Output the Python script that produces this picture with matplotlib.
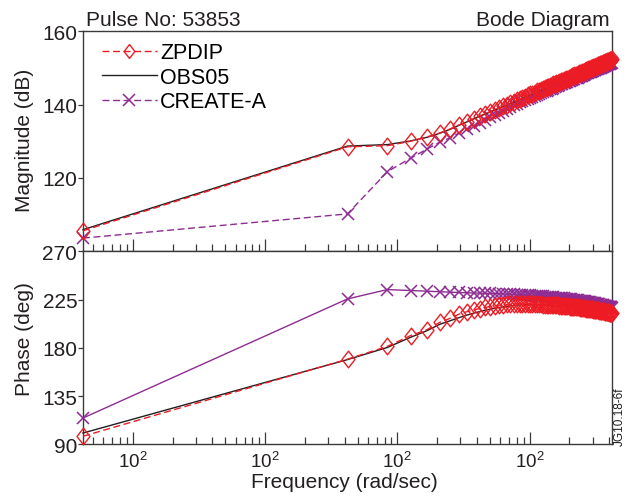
import numpy as np
import matplotlib
matplotlib.use("Agg")
import matplotlib.pyplot as plt
from matplotlib.path import Path
from matplotlib.ticker import FixedLocator, FixedFormatter, LogLocator, NullFormatter

plt.rcParams['font.family'] = ['Liberation Sans', 'DejaVu Sans']
plt.rcParams['mathtext.fontset'] = 'custom'
plt.rcParams['mathtext.rm'] = 'Liberation Sans'

# Frequency grid (rad/sec)
freq = [0.42,
        42, 84, 126, 168, 210, 252, 294, 336, 378,
        420, 462, 504, 546, 588, 630, 672, 714, 756, 798,
        840, 882, 924, 966, 1008, 1050, 1092, 1134, 1176, 1218,
        1260, 1302, 1344, 1386, 1428, 1470, 1512, 1554, 1596, 1638,
        1680, 1722, 1764, 1806, 1848, 1890, 1932, 1974, 2016, 2058,
        2100, 2142, 2184, 2226, 2268, 2310, 2352, 2394, 2436, 2478,
        2520, 2562, 2604, 2646, 2688, 2730, 2772, 2814, 2856, 2898,
        2940, 2982, 3024, 3066, 3108, 3150, 3192, 3234, 3276, 3318,
        3360, 3402, 3444, 3486, 3528, 3570, 3612, 3654, 3696, 3738,
        3780, 3822, 3864, 3906, 3948, 3990, 4032, 4074, 4116, 4158,
        4200]

# Magnitude (dB)
mag_zpdip = [105.6, 128.5, 128.8, 130.0, 131.2, 132.3, 133.4, 134.5, 135.4, 136.2,
             136.9, 137.5, 138.1, 138.6, 139.1, 139.6, 140.0, 140.4, 140.8, 141.2,
             141.5, 141.9, 142.2, 142.5, 142.8, 143.0, 143.3, 143.6, 143.8, 144.0,
             144.3, 144.5, 144.7, 144.9, 145.1, 145.3, 145.5, 145.7, 145.9, 146.0,
             146.2, 146.4, 146.5, 146.7, 146.8, 147.0, 147.1, 147.3, 147.4, 147.6,
             147.7, 147.8, 148.0, 148.1, 148.2, 148.3, 148.5, 148.6, 148.7, 148.8,
             148.9, 149.0, 149.2, 149.3, 149.4, 149.5, 149.6, 149.7, 149.8, 149.9,
             150.0, 150.1, 150.2, 150.3, 150.3, 150.4, 150.5, 150.6, 150.7, 150.8,
             150.9, 151.0, 151.0, 151.1, 151.2, 151.3, 151.4, 151.4, 151.5, 151.6,
             151.7, 151.7, 151.8, 151.9, 152.0, 152.0, 152.1, 152.2, 152.2, 152.3,
             152.4]
mag_obs05 = [105.9, 128.7, 129.1, 130.1, 131.1, 132.2, 133.3, 134.4, 135.3, 136.1,
             136.8, 137.4, 138.0, 138.5, 139.0, 139.5, 139.9, 140.3, 140.7, 141.1,
             141.4, 141.8, 142.1, 142.4, 142.7, 142.9, 143.2, 143.5, 143.7, 143.9,
             144.2, 144.4, 144.6, 144.8, 145.0, 145.2, 145.4, 145.6, 145.8, 145.9,
             146.1, 146.3, 146.4, 146.6, 146.7, 146.9, 147.0, 147.2, 147.3, 147.5,
             147.6, 147.7, 147.9, 148.0, 148.1, 148.2, 148.4, 148.5, 148.6, 148.7,
             148.8, 148.9, 149.1, 149.2, 149.3, 149.4, 149.5, 149.6, 149.7, 149.8,
             149.9, 150.0, 150.1, 150.2, 150.2, 150.3, 150.4, 150.5, 150.6, 150.7,
             150.8, 150.9, 150.9, 151.0, 151.1, 151.2, 151.3, 151.3, 151.4, 151.5,
             151.6, 151.6, 151.7, 151.8, 151.9, 151.9, 152.0, 152.1, 152.1, 152.2,
             152.3]
mag_create = [103.6, 110.2, 121.7, 125.4, 127.9, 129.8, 131.0, 132.3, 133.3, 134.2,
              135.1, 135.9, 136.6, 137.2, 137.8, 138.4, 138.9, 139.4, 139.9, 140.3,
              140.6, 141.0, 141.3, 141.6, 141.9, 142.1, 142.4, 142.7, 142.9, 143.1,
              143.4, 143.6, 143.8, 144.0, 144.2, 144.4, 144.6, 144.8, 145.0, 145.1,
              145.3, 145.5, 145.6, 145.8, 145.9, 146.1, 146.2, 146.4, 146.5, 146.7,
              146.8, 146.9, 147.1, 147.2, 147.3, 147.4, 147.6, 147.7, 147.8, 147.9,
              148.0, 148.1, 148.3, 148.4, 148.5, 148.6, 148.7, 148.8, 148.9, 149.0,
              149.1, 149.2, 149.3, 149.4, 149.4, 149.5, 149.6, 149.7, 149.8, 149.9,
              150.0, 150.1, 150.1, 150.2, 150.3, 150.4, 150.5, 150.5, 150.6, 150.7,
              150.8, 150.8, 150.9, 151.0, 151.1, 151.1, 151.2, 151.3, 151.3, 151.4,
              151.3]

# Phase (deg)
ph_zpdip = [97.5, 169.4, 181.3, 191.4, 197.0, 203.8, 207.6, 211.5, 213.7, 215.3,
            216.6, 217.6, 218.5, 219.2, 219.7, 220.1, 220.4, 220.7, 220.9, 221.0,
            221.1, 221.0, 221.0, 220.9, 220.8, 220.8, 220.7, 220.6, 220.5, 220.4,
            220.3, 220.3, 220.2, 220.1, 220.0, 219.9, 219.8, 219.7, 219.6, 219.5,
            219.3, 219.2, 219.1, 219.0, 218.9, 218.8, 218.7, 218.6, 218.5, 218.4,
            218.2, 218.1, 218.0, 217.9, 217.8, 217.7, 217.6, 217.4, 217.3, 217.2,
            217.1, 217.0, 216.9, 216.7, 216.6, 216.5, 216.4, 216.3, 216.2, 216.0,
            215.9, 215.8, 215.7, 215.6, 215.4, 215.3, 215.2, 215.1, 215.0, 214.8,
            214.7, 214.6, 214.5, 214.4, 214.2, 214.1, 214.0, 213.9, 213.8, 213.6,
            213.5, 213.4, 213.3, 213.2, 213.0, 212.9, 212.8, 212.7, 212.5, 212.4,
            212.3]
ph_obs05 = [100.5, 169.0, 180.3, 189.8, 196.0, 202.0, 205.3, 208.2, 210.5, 212.3,
            213.8, 215.0, 216.0, 216.9, 217.6, 218.2, 218.7, 219.1, 219.4, 219.7,
            219.9, 220.2, 220.2, 220.1, 220.0, 220.0, 219.9, 219.8, 219.7, 219.6,
            219.5, 219.5, 219.4, 219.3, 219.2, 219.1, 219.0, 218.9, 218.8, 218.7,
            218.5, 218.4, 218.3, 218.2, 218.1, 218.0, 217.9, 217.8, 217.7, 217.6,
            217.4, 217.3, 217.2, 217.1, 217.0, 216.9, 216.8, 216.6, 216.5, 216.4,
            216.3, 216.2, 216.1, 215.9, 215.8, 215.7, 215.6, 215.5, 215.4, 215.2,
            215.1, 215.0, 214.9, 214.8, 214.6, 214.5, 214.4, 214.3, 214.2, 214.0,
            213.9, 213.8, 213.7, 213.6, 213.4, 213.3, 213.2, 213.1, 213.0, 212.8,
            212.7, 212.6, 212.5, 212.4, 212.2, 212.1, 212.0, 211.9, 211.7, 211.6,
            211.5]
ph_create = [114.5, 225.6, 234.3, 233.4, 232.8, 232.3, 231.9, 231.6, 231.3, 231.1,
             231.0, 230.8, 230.7, 230.5, 230.4, 230.2, 230.1, 229.9, 229.8, 229.6,
             229.5, 229.3, 229.2, 229.0, 228.9, 228.7, 228.6, 228.4, 228.3, 228.1,
             228.0, 227.8, 227.7, 227.5, 227.4, 227.2, 227.1, 226.9, 226.8, 226.6,
             226.5, 226.3, 226.2, 226.0, 225.9, 225.7, 225.6, 225.4, 225.3, 225.1,
             225.0, 224.8, 224.7, 224.5, 224.4, 224.2, 224.1, 223.9, 223.8, 223.6,
             223.5, 223.3, 223.2, 223.0, 222.9, 222.7, 222.6, 222.4, 222.3, 222.1,
             222.0, 221.8, 221.7, 221.5, 221.4, 221.2, 221.1, 220.9, 220.8, 220.6,
             220.5, 220.3, 220.2, 220.0, 219.9, 219.7, 219.6, 219.4, 219.3, 219.1,
             219.0, 218.8, 218.7, 218.5, 218.4, 218.2, 218.1, 217.9, 217.8, 217.6,
             217.5]

xtick_vals = [1, 10, 100, 1000]
xtick_labels = ['$10^2$', '$10^2$', '$10^2$', '$10^2$']
mag_ticks = [120, 140, 160]
ph_ticks = [90, 135, 180, 225, 270]

RED = '#ED1C24'
PURPLE = '#8E2C93'
BLACK = '#231F20'
AXC = '#3a3a3a'
FS = 15

# tall diamond marker
diamond = Path([(0, 1), (0.78, 0), (0, -1), (-0.78, 0), (0, 1)],
               [Path.MOVETO, Path.LINETO, Path.LINETO, Path.LINETO, Path.CLOSEPOLY])

fig = plt.figure(figsize=(6.34, 5.02), dpi=100)
W, H = 634.0, 502.0
ax1 = fig.add_axes([83 / W, 1 - 252.3 / H, 529 / W, 220 / H])
ax2 = fig.add_axes([83 / W, 1 - 445.3 / H, 529 / W, 193 / H])

dash = (0, (5, 2.6))

# Magnitude panel
ax1.plot(freq, mag_create, color=PURPLE, lw=1.0, ls=dash, marker='x', ms=8.5,
         mew=1.1, zorder=2, clip_on=False)
ax1.plot(freq, mag_obs05, color=BLACK, lw=1.0, ls='-', zorder=3, clip_on=False)
ax1.plot(freq, mag_zpdip, color=RED, lw=1.0, ls=dash, marker=diamond, ms=12,
         mfc='none', mec=RED, mew=1.0, zorder=4, clip_on=False)

# Phase panel
ax2.plot(freq, ph_create, color=PURPLE, lw=1.0, ls='-', marker='x', ms=8.5,
         mew=1.1, zorder=2, clip_on=False)
ax2.plot(freq, ph_obs05, color=BLACK, lw=1.0, ls='-', zorder=3, clip_on=False)
ax2.plot(freq, ph_zpdip, color=RED, lw=1.0, ls=dash, marker=diamond, ms=12,
         mfc='none', mec=RED, mew=1.0, zorder=4, clip_on=False)

for ax in (ax1, ax2):
    ax.set_xscale('log')
    ax.set_xlim(0.42, 4200)
    ax.xaxis.set_major_locator(FixedLocator(xtick_vals))
    ax.xaxis.set_minor_locator(LogLocator(base=10, subs=np.arange(2, 10)))
    ax.xaxis.set_minor_formatter(NullFormatter())
    for s in ax.spines.values():
        s.set_color(AXC)
        s.set_linewidth(1.0)
        s.set_zorder(1)
    ax.tick_params(axis='x', which='major', direction='in', length=8.5,
                   width=0.9, color=AXC, top=False, bottom=True)
    ax.tick_params(axis='x', which='minor', direction='in', length=5,
                   width=0.9, color=AXC, top=False, bottom=True)
    ax.tick_params(axis='y', which='major', direction='out', length=3.6,
                   width=0.9, color=AXC, left=True, right=False, pad=0.5,
                   labelsize=FS, labelcolor=BLACK)
    ax.tick_params(axis='y', which='minor', left=False, right=False)

ax1.set_ylim(100, 160)
ax1.set_yticks(mag_ticks)
ax1.tick_params(axis='x', labelbottom=False)

ax2.set_ylim(90, 270)
ax2.set_yticks(ph_ticks)
ax2.xaxis.set_major_formatter(FixedFormatter(xtick_labels))
ax2.tick_params(axis='x', labelsize=13.5, labelcolor=BLACK, pad=4)

# Legend
h_z, = ax1.plot([], [], color=RED, lw=1.0, ls=dash, marker=diamond, ms=10,
                mfc='none', mec=RED, mew=1.0)
h_o, = ax1.plot([], [], color=BLACK, lw=1.0, ls='-')
h_c, = ax1.plot([], [], color=PURPLE, lw=1.0, ls=dash, marker='x', ms=8, mew=1.1)
ax1.legend([h_z, h_o, h_c], ['ZPDIP', 'OBS05', 'CREATE-A'], loc='upper left',
           bbox_to_anchor=(0.036, 0.95), frameon=False, fontsize=15.5,
           handlelength=2.55, handletextpad=0.15, labelspacing=0.16,
           borderpad=0, borderaxespad=0, numpoints=1)

# Labels and annotations
fig.text(25 / W, 1 - 140 / H, 'Magnitude (dB)', rotation=90, ha='center',
         va='center', fontsize=FS, color=BLACK)
fig.text(25 / W, 1 - 339 / H, 'Phase (deg)', rotation=90, ha='center',
         va='center', fontsize=FS, color=BLACK)
fig.text(344 / W, 1 - 483 / H, 'Frequency (rad/sec)', ha='center', va='center',
         fontsize=FS, color=BLACK)
fig.text(86 / W, 1 - 26 / H, 'Pulse No: 53853', ha='left', va='baseline',
         fontsize=FS, color=BLACK)
fig.text(610 / W, 1 - 26 / H, 'Bode Diagram', ha='right', va='baseline',
         fontsize=FS, color=BLACK)
fig.text(620 / W, 1 - 417 / H, 'JG10.18-6f', rotation=90, ha='center',
         va='center', fontsize=8.5, color=BLACK)

fig.savefig('out.png', dpi=100)
